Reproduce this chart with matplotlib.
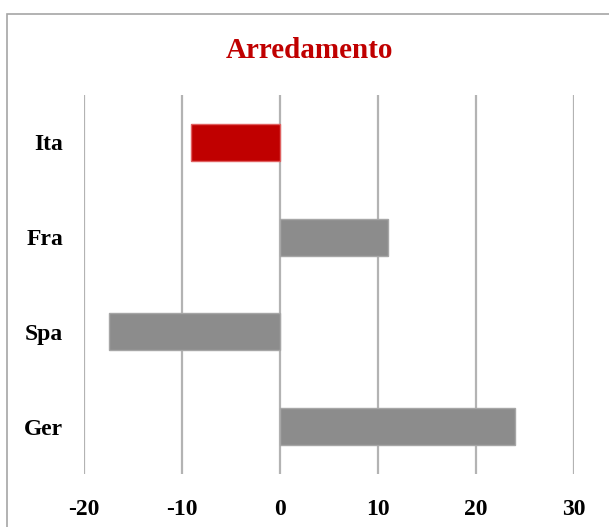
import matplotlib.pyplot as plt
from matplotlib.patches import Rectangle

countries = ["Ita", "Fra", "Spa", "Ger"]
values = [-9.1, 11.0, -17.4, 24.0]
bar_colors = ["#c00000", "#8c8c8c", "#8c8c8c", "#8c8c8c"]
edge_colors = ["#e06060", "#a6a6a6", "#a6a6a6", "#a6a6a6"]
xticks = [-20, -10, 0, 10, 20, 30]

plt.rcParams["font.family"] = ["Liberation Serif", "DejaVu Serif"]
plt.rcParams["font.weight"] = "bold"

W, H = 609, 527
fig = plt.figure(figsize=(W / 100, H / 100), dpi=100)
ax = fig.add_axes([84 / W, 1 - 474 / H, (574 - 84) / W, (474 - 95) / H])

# frame around the whole chart area
fig.patches.append(Rectangle((7 / W, -0.1), 1.2, 1 - 14 / H + 0.1, transform=fig.transFigure,
                             fill=False, edgecolor="#a6a6a6", linewidth=1.2))

ypos = list(range(len(countries)))
ax.barh(ypos, values, height=0.39, color=bar_colors, edgecolor=edge_colors,
        linewidth=1.0, zorder=2)

ax.set_xlim(-20, 30)
ax.set_ylim(len(countries) - 0.5, -0.5)
ax.set_xticks(xticks)
ax.set_xticklabels([str(t) for t in xticks])
ax.set_yticks(ypos)
ax.set_yticklabels(countries)
ax.tick_params(axis="x", length=0, pad=18, labelsize=17)
ax.tick_params(axis="y", length=0, pad=15, labelsize=17)
for lbl in ax.get_xticklabels() + ax.get_yticklabels():
    lbl.set_fontweight("bold")

ax.grid(axis="x", color="#b3b3b3", linewidth=1.6, zorder=0)
ax.set_axisbelow(True)
for s in ax.spines.values():
    s.set_visible(False)

fig.text(310 / W, 1 - 50 / H, "Arredamento", ha="center", va="center",
         fontsize=21, fontweight="bold", color="#c00000")

fig.savefig("out.png", dpi=100)
